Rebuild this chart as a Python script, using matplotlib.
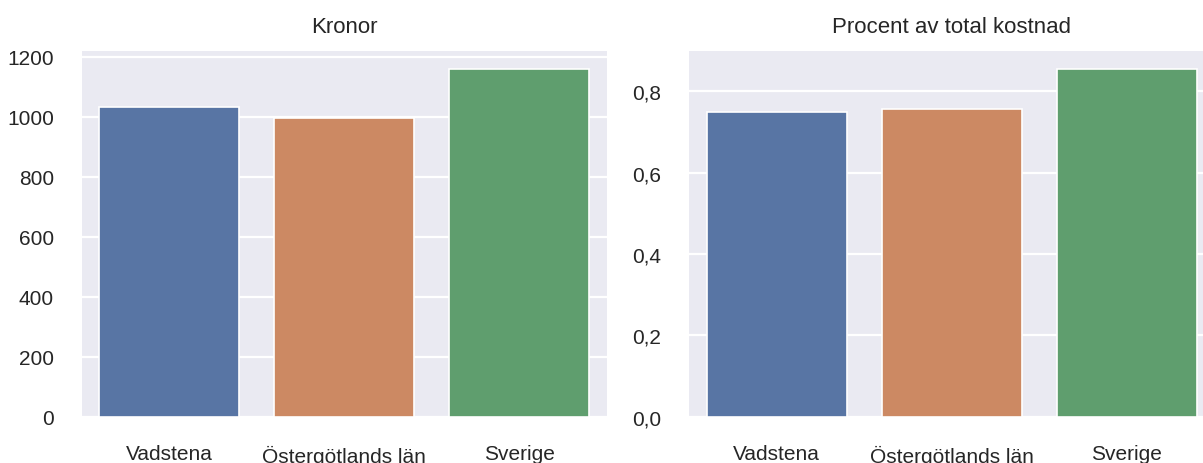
import matplotlib
matplotlib.use("Agg")
import matplotlib.pyplot as plt
from matplotlib.ticker import FixedLocator, FuncFormatter

categories = ["Vadstena", "Östergötlands län", "Sverige"]
kronor = [1032, 997, 1160]
procent = [0.749, 0.756, 0.856]
kronor_ticks = [0, 200, 400, 600, 800, 1000, 1200]
procent_ticks = [0.0, 0.2, 0.4, 0.6, 0.8]
titles = ["Kronor", "Procent av total kostnad"]
colors = ["#5875a4", "#cc8963", "#5f9e6e"]

plt.rcParams["font.family"] = ["Liberation Sans", "DejaVu Sans"]
TEXT = "#262626"

fig = plt.figure(figsize=(12.03, 4.64), dpi=100)
W, H = 1203, 464
ax1 = fig.add_axes([81.8 / W, (H - 417.7) / H, 525 / W, (417.7 - 52.3) / H])
ax2 = fig.add_axes([689.2 / W, (H - 417.7) / H, 525 / W, (417.7 - 52.3) / H])


def style(ax, values, ticks, title, fmt):
    ax.set_facecolor("#EAEAF2")
    ax.set_axisbelow(True)
    ax.grid(True, axis="both", color="white", linewidth=1.6)
    ax.bar(range(len(categories)), values, width=0.8, color=colors,
           edgecolor="white", linewidth=1.2)
    ax.set_xlim(-0.5, len(categories) - 0.5)
    ax.margins(y=0.05)
    ax.set_xticks(range(len(categories)))
    ax.set_xticklabels(categories)
    ax.xaxis.grid(False)
    ax.yaxis.set_major_locator(FixedLocator(ticks))
    ax.yaxis.set_major_formatter(FuncFormatter(fmt))
    for s in ax.spines.values():
        s.set_visible(False)
    ax.tick_params(axis="both", length=0, labelsize=15, colors=TEXT, pad=20)
    ax.set_title(title, fontsize=16, color=TEXT, pad=13.7)


style(ax1, kronor, kronor_ticks, titles[0], lambda v, p: f"{v:.0f}")
style(ax2, procent, procent_ticks, titles[1],
      lambda v, p: f"{v:.1f}".replace(".", ","))

fig.savefig("out.png", dpi=100)
